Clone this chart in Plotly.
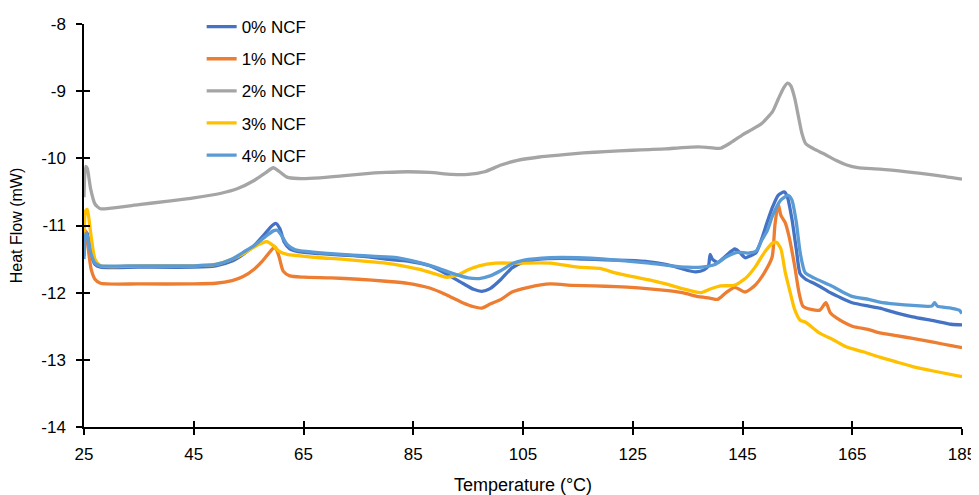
import plotly.graph_objects as go

names = ["0% NCF", "1% NCF", "2% NCF", "3% NCF", "4% NCF"]
colors = ["#4472C4", "#ED7D31", "#A5A5A5", "#FFC000", "#5B9BD5"]

x0 = [25.0, 25.3, 25.6, 26.2, 27.0, 28.0, 35, 45, 49, 52, 54, 56, 58, 59.3, 60, 60.7, 61.5, 62.5, 64, 68, 72, 76, 80, 84, 88, 91, 94, 96, 97.5, 99, 101, 103, 105, 108, 112, 116, 120, 124, 128, 131, 133, 135, 136.5, 138, 138.8, 139.1, 139.5, 140.5, 142, 143.6, 144.5, 145.5, 146.5, 147.5, 148.5, 149.5, 150.5, 151.5, 152.6, 153.2, 154, 154.8, 155.5, 156.5, 158, 160, 161, 163, 165, 168, 170, 173, 176, 180, 183, 185]
y0 = [-11.45, -11.1, -11.12, -11.4, -11.58, -11.62, -11.62, -11.62, -11.6, -11.53, -11.43, -11.3, -11.12, -11.0, -10.97, -11.05, -11.25, -11.35, -11.39, -11.42, -11.44, -11.46, -11.5, -11.53, -11.6, -11.72, -11.86, -11.95, -11.98, -11.94, -11.8, -11.63, -11.55, -11.5, -11.49, -11.5, -11.51, -11.52, -11.54, -11.58, -11.62, -11.67, -11.69, -11.66, -11.6, -11.43, -11.5, -11.55, -11.45, -11.35, -11.4, -11.48, -11.45, -11.4, -11.2, -10.95, -10.72, -10.55, -10.5, -10.58, -10.9, -11.35, -11.72, -11.8, -11.86, -11.95, -12.0, -12.08, -12.15, -12.2, -12.23, -12.3, -12.36, -12.42, -12.47, -12.48]

x1 = [25.0, 25.3, 25.7, 26.3, 27.0, 28.0, 35, 45, 49, 52, 54, 56, 57.5, 58.8, 59.8, 60.5, 61.3, 62.5, 65, 70, 75, 80, 84, 88, 91, 94, 96, 97.5, 99, 101, 103, 106, 110, 114, 118, 122, 126, 130, 134, 137, 139, 140.5, 142, 143.6, 145.5, 147.3, 149, 150.4, 150.9, 151.5, 152, 152.8, 153.5, 154.5, 155.3, 156, 157.5, 159.1, 160.2, 161, 162.2, 165, 168, 170, 173, 176, 180, 183, 185]
y1 = [-11.2, -11.08, -11.3, -11.65, -11.8, -11.86, -11.87, -11.87, -11.86, -11.82, -11.76, -11.65, -11.53, -11.4, -11.32, -11.45, -11.68, -11.75, -11.77, -11.78, -11.8, -11.83, -11.86, -11.93, -12.03, -12.15, -12.21, -12.23, -12.17, -12.1, -11.99, -11.92, -11.87, -11.89, -11.9, -11.91, -11.93, -11.96, -12.0, -12.06, -12.08, -12.1, -12.0, -11.92, -11.99, -11.89, -11.7, -11.47, -11.0, -10.68, -10.85, -10.96, -11.17, -11.6, -12.0, -12.2, -12.25, -12.26, -12.15, -12.3, -12.38, -12.5, -12.55, -12.6, -12.64, -12.68, -12.74, -12.79, -12.82]

x2 = [25.0, 25.3, 25.6, 26.2, 27.0, 28.0, 30, 35, 40, 45, 50, 53, 56, 58, 59.5, 60.5, 62, 64, 68, 72, 76, 80, 84, 88, 92, 95, 98, 101, 104, 108, 112, 116, 120, 125, 128, 131, 134, 137, 139, 141, 143, 145, 146.5, 148.5, 150.5, 151.5, 152.5, 153.2, 153.8, 154.5, 155.2, 155.8, 156.5, 158, 160, 162, 164, 166, 170, 175, 180, 185]
y2 = [-10.58, -10.12, -10.15, -10.45, -10.68, -10.75, -10.74, -10.69, -10.64, -10.59, -10.52, -10.45, -10.33, -10.22, -10.14, -10.19, -10.28, -10.3, -10.29, -10.26, -10.23, -10.21, -10.2, -10.21, -10.24, -10.24, -10.2, -10.1, -10.03, -9.98, -9.95, -9.92, -9.9, -9.88, -9.87, -9.86, -9.84, -9.83, -9.84, -9.85, -9.76, -9.65, -9.58, -9.48, -9.3, -9.12, -8.95, -8.88, -8.92, -9.1, -9.38, -9.62, -9.78, -9.86, -9.94, -10.03, -10.1, -10.14, -10.16, -10.2, -10.25, -10.31]

x3 = [25.0, 25.3, 25.6, 26.2, 27.0, 28.0, 35, 45, 49, 52, 54, 56, 57.5, 58.3, 59.5, 60.5, 62, 64, 68, 72, 76, 80, 83, 86, 89, 91, 93, 95, 97, 100, 104, 110, 115, 119, 122, 125, 128, 131, 134, 136, 137.5, 139, 141, 143.5, 145.5, 147.3, 149, 150.5, 151.2, 152, 152.8, 153.7, 154.5, 155.5, 156.5, 159, 161.5, 164, 167, 170, 173, 176, 180, 185]
y3 = [-11.15, -10.78, -10.76, -11.1, -11.5, -11.6, -11.6, -11.6, -11.58, -11.5, -11.42, -11.32, -11.26, -11.24, -11.3, -11.38, -11.43, -11.45, -11.48, -11.5, -11.53, -11.56, -11.6, -11.65, -11.72, -11.77, -11.74, -11.66, -11.6, -11.56, -11.56, -11.56, -11.62, -11.64, -11.71, -11.76, -11.81, -11.87, -11.94, -11.98, -12.0, -11.95, -11.9, -11.89, -11.79, -11.62, -11.4, -11.26, -11.25, -11.35, -11.7, -12.0, -12.25, -12.41, -12.44, -12.6, -12.7, -12.81, -12.88, -12.96, -13.03, -13.1, -13.17, -13.25]

x4 = [25.0, 25.3, 25.6, 26.2, 27.0, 28.0, 35, 45, 49, 52, 54, 56, 58, 59.5, 60.2, 61, 62, 63.5, 66, 70, 74, 78, 82, 86, 89, 92, 95, 97, 99, 101, 103, 105, 110, 115, 120, 124, 128, 132, 135, 137.5, 140, 142, 144, 146, 147.5, 148.5, 149.5, 150.5, 152, 153.3, 154, 154.8, 155.5, 156.4, 158, 161, 163, 165.1, 168, 170, 173, 176, 179.5, 180, 180.5, 183, 184.5, 185]
y4 = [-11.5, -11.12, -11.15, -11.4, -11.56, -11.6, -11.6, -11.6, -11.58, -11.5, -11.4, -11.3, -11.17, -11.08, -11.07, -11.15, -11.28, -11.36, -11.39, -11.42, -11.44, -11.46, -11.48, -11.55, -11.62, -11.71, -11.78, -11.79, -11.75, -11.67, -11.57, -11.52, -11.48, -11.48, -11.5, -11.53, -11.56, -11.6, -11.62, -11.62, -11.58, -11.47, -11.4, -11.41, -11.38, -11.22, -11.08, -10.85, -10.62, -10.55, -10.62, -10.95, -11.4, -11.7, -11.78, -11.89, -11.98, -12.06, -12.1, -12.14, -12.17, -12.19, -12.2, -12.15, -12.2, -12.23, -12.26, -12.31]

x_ticks = [25, 45, 65, 85, 105, 125, 145, 165, 185]
y_ticks = [-14, -13, -12, -11, -10, -9, -8]

xs = [x0, x1, x2, x3, x4]
ys = [y0, y1, y2, y3, y4]

FONT = "Liberation Sans, Arial, sans-serif"

fig = go.Figure()
for i in range(5):
    fig.add_trace(go.Scatter(
        x=xs[i], y=ys[i], mode="lines", name=names[i],
        line=dict(color=colors[i], width=3.3, shape="spline", smoothing=0.6),
        legendgroup=names[i],
    ))
# helper trace for overlay axes (inside half of the crossing ticks)
fig.add_trace(go.Scatter(x=[], y=[], xaxis="x2", yaxis="y2", showlegend=False, hoverinfo="skip"))

axis_common = dict(showgrid=False, zeroline=False, showline=True, linecolor="black", linewidth=1.5,
                   ticks="outside", ticklen=6, tickwidth=1.5, tickcolor="black", automargin=False,
                   tickfont=dict(family=FONT, size=17, color="black"))

# the page body adds an 8px offset; figure sized so the plot area lands where the reference's does
fig.update_layout(
    width=971, height=487,
    margin=dict(l=76, r=17, t=16, b=68, autoexpand=False),
    paper_bgcolor="white", plot_bgcolor="white",
    font=dict(family=FONT, color="black"),
    xaxis=dict(range=[25, 185], tickvals=x_ticks, ticktext=[str(v) for v in x_ticks],
               ticklabelstandoff=5,
               title=dict(text="Temperature (°C)", font=dict(family=FONT, size=18), standoff=20),
               **axis_common),
    yaxis=dict(range=[-14, -8], tickvals=y_ticks, ticktext=[str(v) for v in y_ticks],
               ticklabelstandoff=7,
               title=dict(text="Heat Flow (mW)", font=dict(family=FONT, size=16), standoff=16),
               **axis_common),
    xaxis2=dict(range=[25, 185], overlaying="x", tickvals=x_ticks, showticklabels=False,
                showgrid=False, zeroline=False, showline=False,
                ticks="inside", ticklen=6, tickwidth=1.5, tickcolor="black", anchor="y2", side="bottom"),
    yaxis2=dict(range=[-14, -8], overlaying="y", tickvals=y_ticks, showticklabels=False,
                showgrid=False, zeroline=False, showline=False,
                ticks="inside", ticklen=6, tickwidth=1.5, tickcolor="black", anchor="x2", side="left"),
    legend=dict(x=0.134, y=1.037, xanchor="left", yanchor="top",
                font=dict(family=FONT, size=17, color="black"),
                bgcolor="rgba(0,0,0,0)", tracegroupgap=7, itemwidth=30),
    showlegend=True,
)

fig.write_html("out.html")
